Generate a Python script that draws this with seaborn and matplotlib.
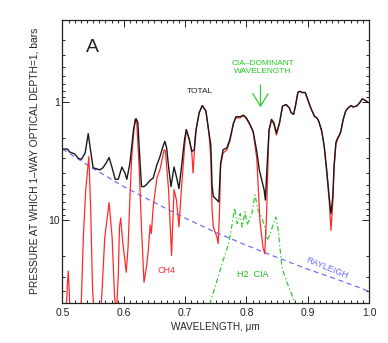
import numpy as np
import pandas as pd
import seaborn as sns
import matplotlib
matplotlib.use("Agg")
import matplotlib.pyplot as plt
from matplotlib.ticker import FixedLocator, NullFormatter, MultipleLocator

sns.set_style("ticks")
plt.rcParams['font.family'] = ['Liberation Sans', 'DejaVu Sans']

# TOTAL (black)
wl_total = [0.500, 0.508, 0.512, 0.520, 0.526, 0.531, 0.537, 0.542, 0.546, 0.550,
            0.561, 0.566, 0.571, 0.576, 0.581, 0.586, 0.591, 0.597, 0.602, 0.605,
            0.610, 0.616, 0.620, 0.623, 0.626, 0.629, 0.633, 0.637, 0.643, 0.648,
            0.654, 0.659, 0.664, 0.667, 0.670, 0.673, 0.677, 0.682, 0.686, 0.690,
            0.694, 0.699, 0.702, 0.707, 0.711, 0.715, 0.718, 0.723, 0.728, 0.734,
            0.739, 0.742, 0.744, 0.746, 0.752, 0.755, 0.758, 0.762, 0.768, 0.773,
            0.779, 0.783, 0.790, 0.795, 0.800, 0.806, 0.811, 0.817, 0.821, 0.825,
            0.829, 0.831, 0.834, 0.837, 0.841, 0.845, 0.849, 0.854, 0.859, 0.865,
            0.870, 0.873, 0.877, 0.880, 0.884, 0.887, 0.891, 0.896, 0.900, 0.905,
            0.911, 0.915, 0.918, 0.923, 0.927, 0.931, 0.935, 0.938, 0.941, 0.943,
            0.946, 0.949, 0.952, 0.954, 0.958, 0.962, 0.966, 0.971, 0.974, 0.980,
            0.985, 0.989, 0.993, 0.999]
p_total = [2.5, 2.5, 2.65, 2.75, 3.0, 3.05, 2.7, 1.85, 2.6, 3.6,
           3.75, 3.6, 3.3, 2.95, 3.6, 4.5, 4.5, 3.55, 4.0, 4.5,
           3.3, 1.7, 1.38, 1.5, 2.9, 5.2, 5.2, 5.0, 4.6, 4.4,
           3.4, 2.9, 2.37, 2.15, 2.45, 3.5, 5.2, 3.55, 4.3, 5.4,
           3.6, 2.1, 1.71, 2.08, 2.62, 2.53, 1.71, 1.23, 1.07, 1.19,
           1.83, 2.3, 5.0, 6.3, 6.75, 7.0, 3.3, 2.53, 2.45, 2.08,
           1.5, 1.33, 1.33, 1.29, 1.36, 1.55, 1.77, 2.62, 3.74, 4.55,
           5.55, 6.75, 3.29, 1.71, 1.40, 1.5, 1.83, 1.5, 1.08, 1.05,
           1.12, 1.23, 1.27, 1.08, 0.83, 0.81, 0.83, 0.83, 0.95, 1.12,
           1.32, 1.36, 1.45, 1.77, 2.37, 3.74, 6.3, 8.8, 6.3, 3.51,
           2.2, 2.0, 1.89, 1.77, 1.40, 1.19, 1.12, 1.07, 1.1, 1.08,
           1.01, 0.94, 0.96, 1.01]

# CH4 (red)
wl_ch4 = [0.500, 0.506, 0.508, 0.5095, 0.511, 0.513, 0.520, 0.528, 0.531, 0.534,
          0.538, 0.543, 0.546, 0.549, 0.552, 0.560, 0.564, 0.569, 0.576, 0.581,
          0.585, 0.588, 0.591, 0.593, 0.595, 0.598, 0.604, 0.607, 0.610, 0.613,
          0.618, 0.621, 0.625, 0.629, 0.633, 0.637, 0.640, 0.643, 0.645, 0.648,
          0.654, 0.659, 0.666, 0.668, 0.673, 0.678, 0.682, 0.686, 0.690, 0.694,
          0.699, 0.702, 0.707, 0.711, 0.713, 0.717, 0.723, 0.728, 0.734, 0.739,
          0.742, 0.744, 0.746, 0.752, 0.754, 0.756, 0.758, 0.762, 0.768, 0.773,
          0.779, 0.783, 0.790, 0.795, 0.800, 0.806, 0.811, 0.817, 0.822, 0.827,
          0.830, 0.833, 0.836, 0.837, 0.841, 0.845, 0.849, 0.854, 0.859, 0.865,
          0.870, 0.873, 0.877, 0.880, 0.884, 0.887, 0.891, 0.896, 0.900, 0.905,
          0.911, 0.915, 0.918, 0.923, 0.927, 0.931, 0.935, 0.938, 0.941, 0.943,
          0.946, 0.949, 0.952, 0.954, 0.958, 0.962, 0.966, 0.971, 0.974, 0.980,
          0.985, 0.989, 0.993, 0.999]
p_ch4 = [80, 60, 35, 27, 40, 70, 90, 80, 45, 14,
         5.5, 2.9, 8.0, 37, 70, 80, 45, 14, 7.1, 14,
         45, 60, 30, 11.4, 9.6, 14.8, 27.6, 17, 6.5, 2.9,
         1.40, 1.42, 3.5, 12, 33.6, 25, 18, 11, 13, 7.7,
         4.4, 3.74, 2.53, 2.6, 5.5, 19.9, 5.5, 6.8, 11.4, 5.5,
         2.45, 1.71, 2.1, 2.7, 4.0, 1.83, 1.23, 1.07, 1.19, 1.85,
         3.0, 8.0, 11.4, 13.9, 15.8, 9.0, 3.4, 2.7, 2.55, 2.15,
         1.52, 1.36, 1.36, 1.3, 1.38, 1.57, 1.8, 3.0, 10, 16.9,
         19.3, 8.8, 2.37, 1.75, 1.42, 1.55, 1.9, 1.52, 1.08, 1.05,
         1.12, 1.23, 1.27, 1.08, 0.83, 0.81, 0.83, 0.83, 0.95, 1.12,
         1.32, 1.36, 1.45, 1.77, 2.4, 3.9, 6.8, 12.2, 7.0, 3.6,
         2.3, 2.05, 1.9, 1.77, 1.40, 1.19, 1.12, 1.07, 1.1, 1.08,
         1.01, 0.94, 0.96, 1.01]

# H2 CIA (green)
wl_cia = [0.735, 0.741, 0.752, 0.762, 0.771, 0.776, 0.781, 0.785, 0.790, 0.793,
          0.798, 0.801, 0.809, 0.814, 0.819, 0.825, 0.830, 0.834, 0.839, 0.844,
          0.848, 0.852, 0.858, 0.865, 0.872, 0.879, 0.885]
p_cia = [80, 50, 32.6, 22, 15.8, 11.4, 7.9, 10.7, 8.8, 11.4,
         8.5, 11.0, 8.8, 6.1, 8.2, 9.4, 11.4, 14.8, 13, 10.7,
         9.4, 12.2, 25, 32.6, 40, 50, 80]

# Rayleigh (blue)
wl_ray = [0.50, 0.55, 0.60, 0.65, 0.70, 0.75, 0.80, 0.85, 0.90, 0.95, 1.00]
p_ray = [2.5, 3.65, 5.2, 7.1, 9.6, 12.7, 16.3, 20.7, 26, 32, 40]

fig = plt.figure(figsize=(3.88, 3.43), dpi=100)
ax = fig.add_axes([0.161, 0.1175, 0.790, 0.8255])

sns.lineplot(x=wl_ray, y=p_ray, ax=ax, color="#7070ff", lw=0.9,
             linestyle=(0, (4, 3)), estimator=None, sort=False)
sns.lineplot(x=wl_cia, y=p_cia, ax=ax, color="#33cc33", lw=0.9,
             linestyle=(0, (4, 2, 1, 2)), estimator=None, sort=False)
sns.lineplot(x=wl_ch4, y=p_ch4, ax=ax, color="#ff2a2a", lw=0.9,
             estimator=None, sort=False)
sns.lineplot(x=wl_total, y=p_total, ax=ax, color="#1a1a1a", lw=1.0,
             estimator=None, sort=False)

ax.set_yscale("log")
ax.set_xlim(0.5, 1.0)
ax.set_ylim(50, 0.2)

ax.xaxis.set_major_locator(MultipleLocator(0.1))
ax.xaxis.set_minor_locator(MultipleLocator(0.01))
ax.set_xticklabels([f"{v:.1f}" for v in ax.get_xticks()])
ax.yaxis.set_major_locator(FixedLocator([1, 10]))
ax.set_yticklabels(["1", "10"])
minors = [0.2, 0.3, 0.4, 0.5, 0.6, 0.7, 0.8, 0.9] + list(range(2, 10)) + [20, 30, 40, 50]
ax.yaxis.set_minor_locator(FixedLocator(minors))
ax.yaxis.set_minor_formatter(NullFormatter())

ax.tick_params(which="both", direction="in", top=True, right=True,
               labelsize=7.5, colors="#222222", width=0.7)
ax.tick_params(which="major", length=5)
ax.tick_params(which="minor", length=2.5)
ax.tick_params(axis="x", pad=4)
ax.tick_params(axis="y", pad=2)
for s in ax.spines.values():
    s.set_linewidth(0.9)
    s.set_color("#222222")

ax.set_xlabel("WAVELENGTH, \u03bcm", fontsize=7.2, labelpad=3)
ax.set_ylabel("PRESSURE AT WHICH 1\u2013WAY OPTICAL DEPTH=1, bars", fontsize=7.4, labelpad=6)

ax.text(0.097, 0.902, "A", transform=ax.transAxes, fontsize=14, ha="center",
        va="center", fontweight="light")
ax.text(0.449, 0.745, "TOTAL", transform=ax.transAxes, fontsize=6, ha="center", va="center")
ax.text(0.653, 0.831, "CIA\u2013DOMINANT\nWAVELENGTH", transform=ax.transAxes, fontsize=6,
        ha="center", va="center", color="#22cc22", linespacing=1.2)
ax.annotate("", xy=(0.823, 1.17), xytext=(0.823, 0.68),
            arrowprops=dict(arrowstyle="->,head_length=0.9,head_width=0.55",
                            color="#33cc33", lw=0.9, mutation_scale=10))
ax.text(0.340, 0.115, "CH4", transform=ax.transAxes, fontsize=6.5, ha="center",
        va="center", color="#ff2a2a")
ax.text(0.622, 0.101, "H2  CIA", transform=ax.transAxes, fontsize=6.5, ha="center",
        va="center", color="#22bb22")
ax.text(0.862, 0.121, "RAYLEIGH", transform=ax.transAxes, fontsize=6.5, ha="center",
        va="center", color="#6a6aff", rotation=-22)

fig.savefig("out.png", dpi=100)
